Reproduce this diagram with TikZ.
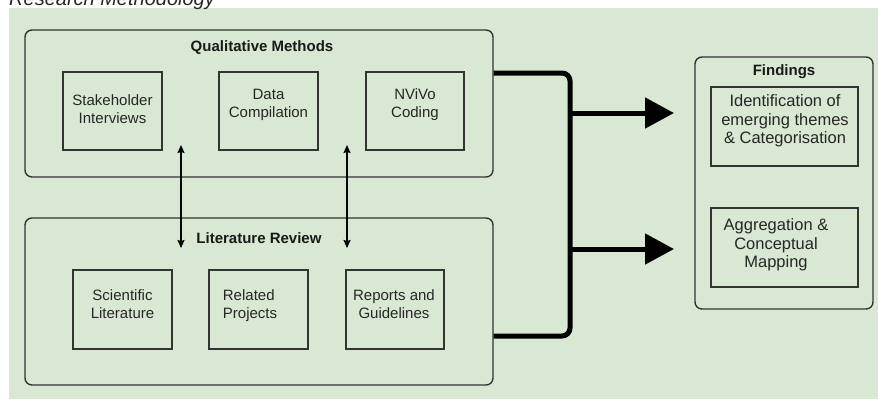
\documentclass[tikz,border=0pt]{standalone}
\usepackage{fontspec}
\setmainfont{Liberation Sans}
\usetikzlibrary{arrows.meta,calc}
\definecolor{bggreen}{HTML}{D8E8D3}
\definecolor{edge}{HTML}{333333}
\tikzset{
  outerbox/.style={draw=edge,line width=1.4pt,rounded corners=7pt,inner sep=0pt},
  innerbox/.style={draw=edge,line width=1.4pt,inner sep=0pt},
  lbl/.style={font=\fontsize{15}{18}\selectfont,align=center,inner sep=0pt,text=black!85},
  biglbl/.style={font=\fontsize{16.5}{18.5}\selectfont,align=center,inner sep=0pt,text=black!85},
  ttl/.style={font=\bfseries\fontsize{15}{18}\selectfont,inner sep=0pt,text=black!90},
  thick conn/.style={line width=5pt,rounded corners=8pt},
  flowarrow/.style={line width=5pt,-{Triangle[length=29pt,width=30pt]}},
  linkarrow/.style={line width=1.6pt,{Stealth[length=8pt,width=7pt,inset=1pt]}-{Stealth[length=8pt,width=7pt,inset=1pt]}}
}
\begin{document}
\begin{tikzpicture}[x=1pt,y=-1pt]
\useasboundingbox (0,0) rectangle (878,399);
\fill[bggreen] (9,8) rectangle (878,399);
\node[anchor=base west,font=\itshape\fontsize{20}{22}\selectfont,inner sep=0pt,text=black!85] (title) at (9,5) {Research Methodology};

% Qualitative Methods
\node[outerbox,minimum width=468pt,minimum height=147pt] (qm) at (259,103.5) {};
\node[ttl] (qmt) at (262,48) {Qualitative Methods};
\node[innerbox,minimum width=99pt,minimum height=78pt] (si) at (112.5,111) {};
\node[lbl] (sit) at (112.5,109) {Stakeholder\\Interviews};
\node[innerbox,minimum width=99pt,minimum height=78pt] (dc) at (268.5,111) {};
\node[lbl] (dct) at (268.5,105) {Data\\Compilation};
\node[innerbox,minimum width=98pt,minimum height=78pt] (nv) at (415,111) {};
\node[lbl] (nvt) at (415,105) {NViVo\\Coding};

% Literature Review
\node[outerbox,minimum width=468pt,minimum height=167pt] (lr) at (259,301.5) {};
\node[ttl] (lrt) at (259,238) {Literature Review};
\node[innerbox,minimum width=99pt,minimum height=79pt] (sl) at (122.5,309.5) {};
\node[lbl] (slt) at (122.5,304) {Scientific\\Literature};
\node[innerbox,minimum width=99pt,minimum height=79pt] (rp) at (258.5,309.5) {};
\node[lbl,align=left] (rpt) at (250,306) {Related\\Projects};
\node[innerbox,minimum width=98pt,minimum height=79pt] (rg) at (395,309.5) {};
\node[lbl] (rgt) at (394,304) {Reports and\\Guidelines};

% Findings
\node[outerbox,minimum width=178pt,minimum height=252pt] (fd) at (784,183) {};
\node[ttl] (fdt) at (784,72) {Findings};
\node[innerbox,minimum width=147pt,minimum height=79pt] (f1) at (784.5,126.5) {};
\node[biglbl] (f1t) at (785,121) {Identification of\\emerging themes\\\& Categorisation};
\node[innerbox,minimum width=147pt,minimum height=79pt] (f2) at (784.5,247.5) {};
\node[biglbl] (f2t) at (776,245) {Aggregation \&\\Conceptual\\Mapping};

% links between method groups
\coordinate (a1t) at (181,145);
\coordinate (a1b) at (181,248);
\coordinate (a2t) at (347,145);
\coordinate (a2b) at (347,248);
\draw[linkarrow] (a1t) -- (a1b);
\draw[linkarrow] (a2t) -- (a2b);

% bracket
\coordinate (bt) at (570,73);
\coordinate (bb) at (570,336);
\draw[thick conn] (qm.east |- bt) -- (bt) -- (bb) -- (lr.east |- bb);
\coordinate (e1) at (674,113);
\coordinate (e2) at (674,249);
\draw[flowarrow] (bt |- e1) -- (e1);
\draw[flowarrow] (bt |- e2) -- (e2);
\end{tikzpicture}
\end{document}
